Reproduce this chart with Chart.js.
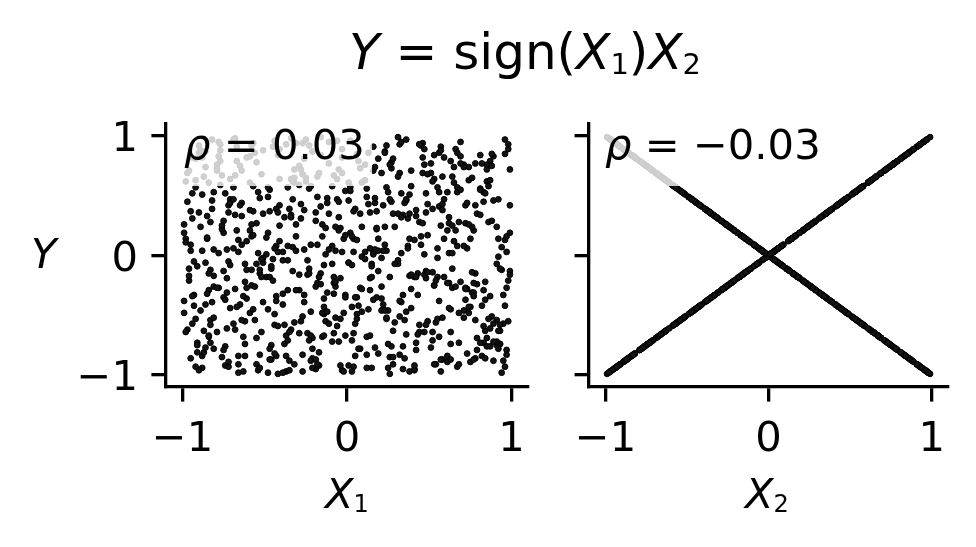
<!DOCTYPE html>
<html><head><meta charset="utf-8">
<script src="https://cdn.jsdelivr.net/npm/chart.js@4.4.0/dist/chart.umd.min.js"></script>
<style>
html,body{margin:0;padding:0;background:#fff;}
#wrap{position:relative;width:976px;height:547px;overflow:hidden;font-family:'DejaVu Sans';color:#000;}
canvas{position:absolute;top:0;}
.t{position:absolute;white-space:nowrap;line-height:1;font-size:41.7px;}
.s{font-size:0.58em;position:relative;top:0.18em;}
</style></head><body>
<div id="wrap">
<canvas id="c1" width="560" height="547" style="left:0;width:560px;height:547px"></canvas>
<canvas id="c2" width="416" height="547" style="left:560px;width:416px;height:547px"></canvas>
<div class="t" style="left:349px;top:26.7px;font-size:50px"><i>Y</i> = sign(<i>X</i><span class="s">1</span>)<i>X</i><span class="s">2</span></div>
<div class="t" style="left:31px;top:232.7px"><i>Y</i></div>
<div class="t" style="left:347px;top:472.7px;transform:translateX(-50%)"><i>X</i><span class="s">1</span></div>
<div class="t" style="left:767px;top:472.7px;transform:translateX(-50%)"><i>X</i><span class="s">2</span></div>
<div class="t" id="rho1" style="left:184px;top:123.7px"></div>
<div class="t" id="rho2" style="left:605px;top:123.7px"></div>
</div>
<script>
const x1 = [
-.93,-.86,-.72,-.64,-.55,-.41,-.37,-.22,-.18,-.06,.04,.13,.27,.31,.48,.52,.66,.79,.83,.97,
-.98,-.81,-.77,-.62,-.59,-.44,-.33,-.26,-.12,-.03,.08,.16,.21,.39,.43,.57,.61,.74,.88,.92,
-.91,-.89,-.73,-.68,-.51,-.47,-.35,-.29,-.14,-.08,.02,.19,.24,.33,.46,.55,.68,.71,.85,.99,
-.95,-.83,-.79,-.61,-.57,-.42,-.31,-.24,-.16,-.01,.06,.11,.28,.36,.41,.59,.63,.77,.82,.94,
-.99,-.87,-.74,-.66,-.53,-.48,-.38,-.21,-.19,-.05,.09,.14,.23,.34,.49,.51,.67,.73,.89,.91,
-.92,-.84,-.71,-.63,-.58,-.45,-.32,-.27,-.11,-.07,.01,.17,.26,.38,.44,.56,.62,.78,.84,.96,
-.96,-.82,-.76,-.69,-.52,-.43,-.39,-.23,-.15,-.02,.07,.12,.29,.32,.47,.53,.69,.75,.81,.93,
-.94,-.88,-.75,-.65,-.56,-.49,-.34,-.28,-.13,-.09,.03,.18,.22,.37,.42,.58,.64,.72,.87,.98,
-.97,-.85,-.78,-.67,-.54,-.41,-.36,-.25,-.17,-.04,.05,.15,.25,.31,.45,.54,.65,.76,.83,.95,
-.90,-.81,-.73,-.62,-.59,-.46,-.37,-.21,-.12,-.06,.08,.11,.27,.35,.48,.57,.61,.79,.86,.92,
-.94,-.83,-.77,-.68,-.53,-.44,-.32,-.29,-.19,-.01,.03,.16,.24,.38,.42,.53,.64,.71,.89,.97,
-.99,-.86,-.71,-.66,-.57,-.47,-.39,-.22,-.11,-.08,.06,.19,.21,.33,.47,.58,.67,.77,.85,.91,
-.92,-.88,-.75,-.61,-.55,-.42,-.34,-.26,-.16,-.05,.01,.12,.28,.36,.44,.52,.69,.74,.81,.96,
-.96,-.81,-.79,-.64,-.51,-.48,-.36,-.23,-.14,-.03,.09,.17,.23,.39,.41,.56,.62,.78,.87,.93,
-.91,-.84,-.72,-.69,-.58,-.43,-.31,-.27,-.18,-.07,.04,.14,.26,.32,.49,.55,.63,.72,.84,.99,
-.97,-.87,-.76,-.63,-.54,-.45,-.38,-.24,-.13,-.02,.07,.13,.29,.37,.43,.51,.66,.75,.82,.94,
-.93,-.82,-.74,-.67,-.59,-.41,-.33,-.28,-.17,-.09,.02,.18,.22,.34,.46,.59,.61,.73,.88,.98,
-.98,-.89,-.78,-.62,-.52,-.46,-.35,-.21,-.15,-.04,.05,.11,.25,.31,.48,.57,.68,.76,.83,.92,
-.95,-.85,-.73,-.65,-.56,-.49,-.37,-.25,-.12,-.06,.08,.15,.27,.35,.45,.54,.65,.79,.86,.95,
-.90,-.83,-.71,-.68,-.57,-.44,-.32,-.22,-.19,-.01,.03,.16,.24,.38,.42,.52,.64,.71,.89,.97,
-.96,-.86,-.77,-.61,-.53,-.47,-.39,-.26,-.11,-.08,.06,.12,.21,.33,.47,.56,.67,.74,.81,.93,
-.92,-.81,-.75,-.66,-.55,-.42,-.34,-.29,-.16,-.05,.01,.19,.28,.36,.44,.58,.62,.77,.85,.99,
-.99,-.88,-.72,-.64,-.51,-.48,-.36,-.23,-.14,-.03,.09,.14,.23,.39,.41,.53,.69,.72,.87,.91,
-.94,-.84,-.79,-.69,-.58,-.43,-.31,-.27,-.18,-.07,.04,.17,.26,.32,.49,.55,.63,.78,.84,.96,
-.91,-.85,-.74,-.67,-.52,-.41,-.35,-.28,-.17,-.09,.02,.15,.22,.34,.46,.57,.61,.76,.88,.92,
-.95,-.82,-.78,-.62,-.59,-.46,-.33,-.21,-.15,-.04,.05,.18,.25,.31,.48,.59,.68,.73,.83,.98,
-.98,-.83,-.71,-.64,-.57,-.44,-.36,-.22,-.19,-.01,.03,.16,.24,.36,.42,.52,.63,.74,.84,.97,
-.90,-.86,-.76,-.68,-.53,-.47,-.31,-.26,-.11,-.08,.06,.12,.21,.33,.47,.56,.67,.71,.89,.93,
-.96,-.81,-.72,-.61,-.55,-.42,-.39,-.29,-.16,-.05,.01,.19,.28,.38,.44,.58,.62,.77,.85,.91,
-.92,-.88,-.79,-.66,-.51,-.48,-.34,-.23,-.14,-.03,.09,.14,.23,.39,.41,.53,.69,.72,.87,.99,
-.94,-.84,-.75,-.69,-.58,-.43,-.32,-.27,-.18,-.07,.04,.17,.26,.32,.49,.55,.64,.78,.81,.96,
-.99,-.87,-.77,-.63,-.54,-.45,-.38,-.24,-.13,-.02,.07,.13,.29,.37,.43,.51,.66,.75,.82,.94,
-.91,-.82,-.74,-.67,-.52,-.41,-.35,-.28,-.17,-.09,.02,.15,.22,.34,.46,.57,.61,.76,.88,.92,
-.97,-.85,-.78,-.62,-.59,-.46,-.33,-.21,-.15,-.04,.05,.18,.25,.31,.48,.59,.68,.73,.83,.98,
-.93,-.89,-.73,-.65,-.56,-.49,-.37,-.25,-.12,-.06,.08,.11,.27,.35,.45,.54,.65,.79,.86,.95,
-.95,-.83,-.71,-.64,-.57,-.44,-.36,-.22,-.19,-.01,.03,.16,.24,.36,.42,.52,.63,.74,.84,.97,
-.90,-.86,-.76,-.68,-.53,-.47,-.31,-.26,-.11,-.08,.06,.12,.21,.33,.47,.56,.67,.71,.89,.93,
-.98,-.81,-.72,-.61,-.55,-.42,-.39,-.29,-.16,-.05,.01,.19,.28,.38,.44,.58,.62,.77,.85,.91,
-.92,-.88,-.79,-.66,-.51,-.48,-.34,-.23,-.14,-.03,.09,.14,.23,.39,.41,.53,.69,.72,.87,.99,
-.94,-.84,-.75,-.69,-.58,-.43,-.32,-.27,-.18,-.07,.04,.17,.26,.32,.49,.55,.64,.78,.81,.96
];
const x2 = [
.42,-.87,.05,-.33,.91,-.12,.67,-.58,.23,-.96,.14,-.45,.78,-.04,.36,-.71,.89,-.69,.53,-.27,
-.62,.17,-.93,.84,-.21,.58,-.07,.39,-.44,.96,-.78,.02,-.36,.71,-.15,.25,-.89,.63,-.51,.47,
.73,-.24,.31,-.98,.06,-.55,.88,-.75,.49,-.67,.19,-.82,.57,-.39,.94,-.02,.28,-.46,.62,-.13,
-.09,.54,-.71,.12,-.37,.99,-.26,.65,-.84,.33,-.53,.76,-.91,.46,-.18,.82,-.64,.21,-.42,.07,
.38,-.66,.92,-.03,.15,-.49,.74,-.87,.26,-.32,.61,-.19,.09,-.95,.43,-.77,.57,-.28,.83,-.54,
-.81,.29,-.47,.68,-.16,.03,-.72,.97,-.35,.52,-.06,.44,-.99,.35,-.58,.86,-.23,.77,-.63,.13,
.11,-.39,.85,-.57,.64,-.08,.32,-.92,.48,-.14,.79,-.68,.24,-.83,.01,-.25,.95,-.43,.56,-.74,
-.52,.84,-.29,.41,-.86,.18,-.64,.55,-.01,.72,-.97,.37,-.45,.08,-.73,.66,-.11,.27,-.34,.93,
.62,-.14,.27,-.79,.96,-.42,.04,-.65,.81,-.23,.39,-.94,.53,-.07,.16,-.56,.74,-.31,.45,-.88,
-.36,.78,-.05,.22,-.61,.87,-.93,.69,-.48,.59,-.27,.03,-.76,.44,-.19,.91,-.84,.35,-.53,.14,
.57,.12,-.88,-.34,.83,-.06,-.61,.29,.95,-.17,-.43,.71,.04,-.97,.38,-.25,.66,-.52,.46,-.79,
-.26,-.74,.44,.91,-.58,.18,-.03,.67,-.95,.32,.85,-.13,-.46,.02,.76,-.87,.53,-.31,-.69,.24,
.93,-.51,-.19,.36,.07,-.84,.62,-.38,.15,-.72,-.06,.49,.81,-.47,.28,-.64,-.22,.74,.55,-.93,
-.71,.26,.64,-.09,-.35,.98,-.57,.11,.43,-.82,-.28,.05,.87,-.44,-.96,.53,.32,-.15,.79,-.63,
.09,.68,-.42,-.97,.25,.84,-.16,.51,-.66,-.04,.37,-.29,-.85,.93,.17,-.53,-.74,.42,-.37,.72,
-.45,.81,-.67,.34,-.02,-.91,.58,.16,-.23,.97,-.78,.43,-.56,.06,-.33,.69,.21,-.89,.77,-.12,
.33,-.97,.76,-.21,.48,-.64,.13,-.43,.92,-.08,.57,-.35,.04,-.76,.69,-.18,.21,-.82,.85,-.55,
-.14,.46,-.83,.07,-.68,.75,-.39,.94,-.26,.19,-.57,.63,-.94,.35,.52,.88,-.48,.24,-.73,-.01,
.86,-.33,.19,-.75,.54,-.01,.97,-.62,.31,-.47,.73,-.18,.45,-.86,.09,-.91,.61,-.24,.28,-.57,
-.92,.58,-.44,.28,-.17,.82,-.65,.47,-.36,.67,-.08,.91,-.53,.14,-.79,.39,-.27,.76,-.88,.03,
.21,.77,-.59,-.12,.94,-.37,.41,-.81,-.05,.65,.13,-.94,-.26,.52,.89,-.68,.08,-.43,.34,-.74,
-.63,-.05,.35,.84,-.27,.59,-.98,.16,-.41,.72,.61,.04,-.85,.47,.93,-.52,.27,-.34,-.76,-.16,
.48,-.82,.93,-.44,.02,-.19,.71,-.56,.36,-.03,.24,-.67,.86,-.28,.13,-.91,.55,-.37,.63,-.75,
-.31,.15,-.76,.57,-.92,.38,-.04,.83,-.49,.26,-.65,.74,-.18,.69,-.55,.06,-.87,.42,-.22,.97,
.75,-.15,-.52,.43,.18,-.89,.96,-.31,-.69,.07,.54,-.07,-.41,.34,.82,-.97,-.23,.65,.29,-.78,
-.04,.39,-.95,.74,-.38,.11,-.62,.86,.68,.53,-.84,.22,-.46,.99,-.13,.47,-.73,.06,-.59,-.21,
.64,-.28,.08,-.71,.45,-.96,.29,-.09,.87,-.54,.16,-.37,.92,-.66,.33,-.14,.79,-.48,.52,-.83,
-.86,.06,-.22,.62,-.48,.87,.29,.33,-.77,.18,-.35,.56,-.02,.95,-.64,.41,-.93,.74,-.57,-.11,
.17,.52,-.36,-.82,.69,-.03,.98,-.59,.24,-.45,-.92,.81,.35,-.17,-.64,.43,.02,-.23,.76,-.72,
-.57,.94,.27,-.13,-.88,.45,-.34,.71,.08,-.69,-.01,.36,-.46,.58,-.95,.64,.83,-.27,-.76,.19,
.34,-.61,.79,-.06,.12,-.39,.56,-.94,.91,-.24,.03,-.77,.47,-.51,.68,-.18,.25,-.86,.84,-.42,
-.19,.63,-.79,.97,-.53,.21,-.32,.04,.55,.48,-.42,.86,-.07,.31,-.66,.77,-.26,.14,-.84,-.98,
.81,-.46,.37,-.91,.03,-.25,.64,-.72,.18,-.58,.96,-.09,.42,-.33,.27,-.87,.53,-.14,.75,-.63,
-.69,.32,-.02,.55,-.83,.09,-.47,.78,-.16,.92,-.35,.23,-.74,.66,-.58,.14,-.91,.44,-.29,.89,
.05,-.88,.61,-.42,.26,-.15,.84,-.97,.47,-.64,.35,-.03,.73,-.54,.92,-.21,.12,-.79,.58,-.33,
-.37,.73,-.64,.54,-.94,.49,-.08,.88,-.29,.35,-.71,.01,-.52,.97,-.18,.62,-.45,.26,-.86,.16,
.96,.41,-.25,-.67,.12,.78,-.94,-.05,.57,.23,-.49,-.83,.69,.32,-.16,-.38,.86,.08,-.72,-.58,
-.11,-.53,.89,.27,-.78,-.36,.04,.65,-.99,-.21,.46,.14,-.63,.51,.93,.38,-.44,-.87,.72,-.07,
.53,-.04,-.73,.98,.39,-.57,-.32,.15,.67,-.89,-.47,.06,.24,-.16,-.92,.84,.77,-.28,-.61,.42,
-.82,.67,.13,-.47,-.26,.34,.91,-.68,-.09,.22,-.93,.48,.76,-.38,-.14,.57,.02,-.54,-.73,.85
];
// Y = sign(X1) * X2
const y = x1.map((v, i) => Math.sign(v) * x2[i]);
const tickVals = [-1, 0, 1];
const rhoText = ['0.03', '\u22120.03'];

document.getElementById('rho1').innerHTML = '<i>\u03c1</i> = ' + rhoText[0];
document.getElementById('rho2').innerHTML = '<i>\u03c1</i> = ' + rhoText[1];

const FONT = {family: 'DejaVu Sans', size: 41.7};
const fmt = v => (v < 0 ? '\u2212' + Math.abs(v) : String(v));

const boxPlugin = {
  id: 'tbox',
  afterDatasetsDraw(chart, args, opts) {
    const a = chart.chartArea, ctx = chart.ctx;
    ctx.save();
    ctx.fillStyle = 'rgba(255,255,255,0.8)';
    ctx.fillRect(a.left + 2, a.top - 4, opts.right - a.left - 2, opts.bottom - a.top + 4);
    ctx.restore();
  }
};

function axis(sizeFn, showLabels, vertical) {
  return {
    type: 'linear', min: -1.1, max: 1.1,
    afterBuildTicks: s => { s.ticks = tickVals.map(v => ({value: v})); },
    afterFit: sizeFn,
    ticks: {display: showLabels, font: FONT, color: '#000', padding: 13.5, labelOffset: vertical ? 4.5 : 0,
            maxRotation: 0, autoSkip: false, callback: v => fmt(v)},
    grid: {drawOnChartArea: false, drawTicks: true, tickLength: 14.6, tickWidth: 3.3, tickColor: '#000', color: '#000', lineWidth: 3.3},
    border: {display: true, color: '#000', width: 3.3}
  };
}

function makeChart(id, xs, yWidth, padRight, showY, boxRight) {
  return new Chart(document.getElementById(id), {
    type: 'scatter',
    data: {datasets: [{
      data: xs.map((v, i) => ({x: v, y: y[i]})),
      backgroundColor: '#141414', borderColor: '#000', borderWidth: 1,
      pointRadius: 2.9, pointHoverRadius: 2.9
    }]},
    options: {
      responsive: false, animation: false, devicePixelRatio: 1,
      layout: {padding: {left: 0, top: 124, right: padRight, bottom: 0}},
      plugins: {legend: {display: false}, tooltip: {enabled: false}, tbox: {right: boxRight, bottom: 186}},
      scales: {
        x: axis(s => { s.height = 160; }, true, false),
        y: axis(s => { s.width = yWidth; }, showY, true)
      }
    },
    plugins: [boxPlugin]
  });
}

makeChart('c1', x1, 166, 32, true, 372);
makeChart('c2', x2, 27, 28, false, 264);
</script>
</body></html>
